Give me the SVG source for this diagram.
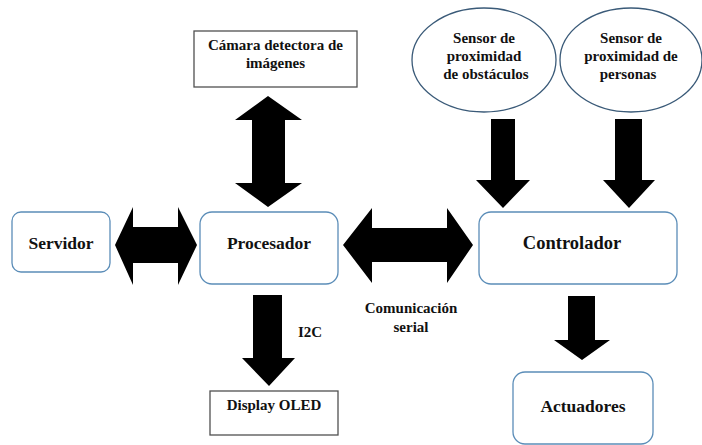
<svg xmlns="http://www.w3.org/2000/svg" width="702" height="445" viewBox="0 0 702 445" font-family="Liberation Serif, Times New Roman, DejaVu Serif, serif">
<style>
.t{font-weight:bold;fill:#111;text-anchor:middle}
.s15{font-size:15px}
.s17{font-size:17.5px}
.rbox{fill:#fff;stroke:#5b8db8;stroke-width:1.3}
.sbox{fill:#fff;stroke:#505050;stroke-width:1.3}
.ell{fill:#fff;stroke:#3a5a78;stroke-width:1.3}
.arr{fill:#000}
</style>
<rect width="702" height="445" fill="#fff"/>
<g id="connectors">
<polygon class="arr" points="268,96 302,120 285,120 285,183 302,183 268,207 235,183 252,183 252,120 235,120"/>
<polygon class="arr" points="115,245 133,207 133,227 178,227 178,207 197,245 178,285 178,263 133,263 133,285"/>
<polygon class="arr" points="343,245 372,208 372,228 447,228 447,208 473,245 447,283 447,262 372,262 372,283"/>
<polygon class="arr" points="491,119 515,119 515,180 530,180 503,208 476,180 491,180"/>
<polygon class="arr" points="615,119 642,119 642,180 655,180 629,208 603,180 615,180"/>
<polygon class="arr" points="253,295 282,295 282,358 295,358 269,386 242,358 253,358"/>
<polygon class="arr" points="568,296 595,296 595,340 610,340 582,360 554,340 568,340"/>
</g>
<g id="camara">
<rect class="sbox" x="194" y="31" width="163" height="56"/>
<text class="t s15" x="275.5" y="50">Cámara detectora de</text>
<text class="t s15" x="275.5" y="68">imágenes</text>
</g>
<g id="sensor1">
<ellipse class="ell" cx="484" cy="60" rx="72" ry="52"/>
<text class="t s15" x="484" y="43">Sensor de</text>
<text class="t s15" x="484" y="61">proximidad</text>
<text class="t s15" x="486" y="79">de obstáculos</text>
</g>
<g id="sensor2">
<ellipse class="ell" cx="631" cy="60" rx="71" ry="52"/>
<text class="t s15" x="631" y="43">Sensor de</text>
<text class="t s15" x="631" y="61">proximidad de</text>
<text class="t s15" x="628" y="79">personas</text>
</g>
<g id="servidor">
<rect class="rbox" x="12" y="212" width="98" height="60" rx="9"/>
<text class="t s17" x="61" y="249">Servidor</text>
</g>
<g id="procesador">
<rect class="rbox" x="200" y="212" width="138" height="72" rx="12"/>
<text class="t s17" x="269" y="249">Procesador</text>
</g>
<g id="controlador">
<rect class="rbox" x="479" y="212" width="198" height="72" rx="12"/>
<text class="t" style="font-size:18.5px" x="572" y="249">Controlador</text>
</g>
<g id="display">
<rect class="sbox" x="210" y="391" width="128" height="44"/>
<text class="t s15" x="274" y="410">Display OLED</text>
</g>
<g id="actuadores">
<rect class="rbox" x="513" y="372" width="140" height="72" rx="12"/>
<text class="t s17" x="583" y="412">Actuadores</text>
</g>
<g id="labels">
<text class="t s15" x="310" y="337">I2C</text>
<text class="t s15" x="411" y="313">Comunicación</text>
<text class="t s15" x="411" y="332">serial</text>
</g>
</svg>
